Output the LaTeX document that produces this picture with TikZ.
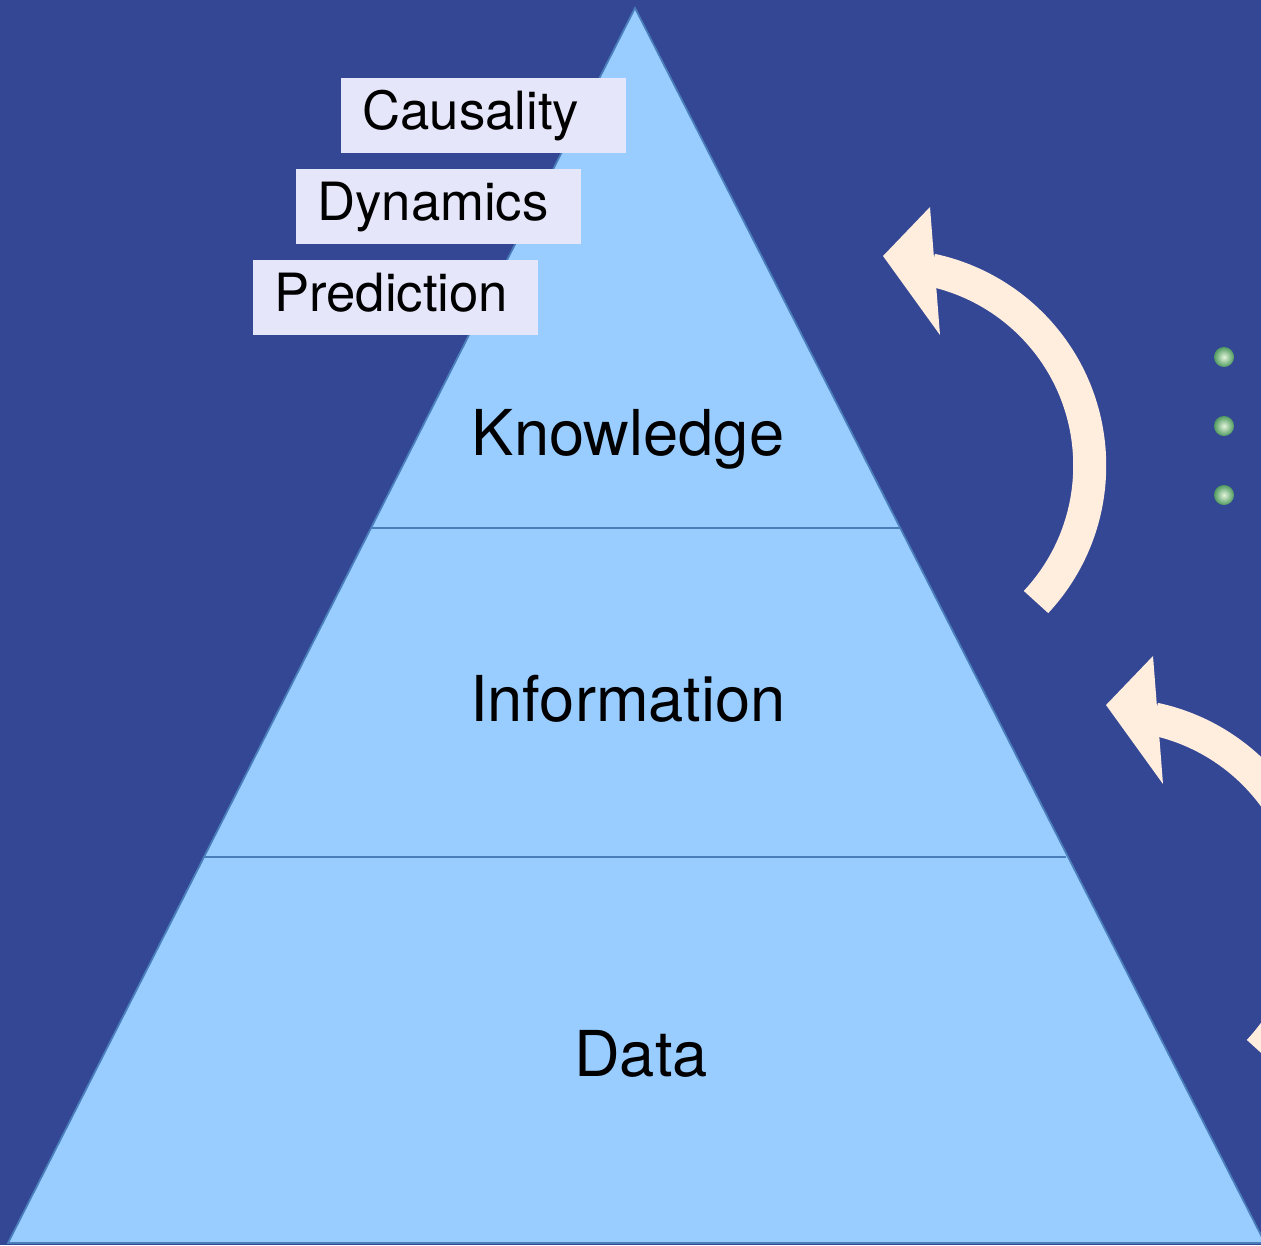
\documentclass[tikz,border=0pt]{standalone}
\usepackage{fontspec}
\setmainfont{TeX Gyre Heros}
\definecolor{bgblue}{RGB}{51,71,148}
\definecolor{trifill}{RGB}{153,204,255}
\definecolor{triline}{RGB}{74,126,187}
\definecolor{boxlav}{RGB}{230,230,250}
\definecolor{arrowcream}{RGB}{255,238,222}
\definecolor{bulletlight}{RGB}{228,244,220}
\definecolor{bulletdark}{RGB}{80,155,95}
\tikzset{
  level/.style={font=\fontsize{36}{40}\selectfont, anchor=base},
  tag/.style={fill=boxlav, anchor=north west, font=\fontsize{30}{34}\selectfont,
    minimum height=1.5cm, text width=4.86cm, inner xsep=0.42cm, inner ysep=0pt,
    text height=22.5pt, text depth=6.6pt, align=left},
  shaft/.style={draw=arrowcream, line width=0.66cm},
  head/.style={fill=arrowcream},
  bullet/.style={inner color=bulletlight, outer color=bulletdark},
}

\begin{document}
\begin{tikzpicture}[x=0.02cm, y=-0.02cm]
\useasboundingbox (0,0) rectangle (1261,1245);
\clip (0,0) rectangle (1261,1245);
\fill[bgblue] (0,0) rectangle (1261,1245);
\filldraw[fill=trifill, draw=triline, line width=1pt] (635,8) -- (8,1243) -- (1265,1243) -- cycle;
\draw[triline, line width=1pt] (371,528) -- (901,528);
\draw[triline, line width=1pt] (204,857) -- (1066,857);
\node[level] (know) at (628,455) {Knowledge};
\node[level] (info) at (628,721) {Information};
\node[level] (data) at (641,1076) {Data};
\node[tag] (caus) at (341,78) {Causality};
\node[tag] (dyn) at (296,169) {Dynamics};
\node[tag] (pred) at (253,260) {Prediction};
\draw[shaft] (1036,602) arc[start angle=43, end angle=-78, radius=200];
\fill[head] (930,207) -- (883,256) -- (940,335) -- cycle;
\draw[shaft] (1259,1051) arc[start angle=43, end angle=-78, radius=200];
\fill[head] (1153,656) -- (1106,705) -- (1163,784) -- cycle;
\shade[bullet] (1224,357) circle[radius=10];
\shade[bullet] (1224,426) circle[radius=10];
\shade[bullet] (1224,495) circle[radius=10];
\end{tikzpicture}
\end{document}
